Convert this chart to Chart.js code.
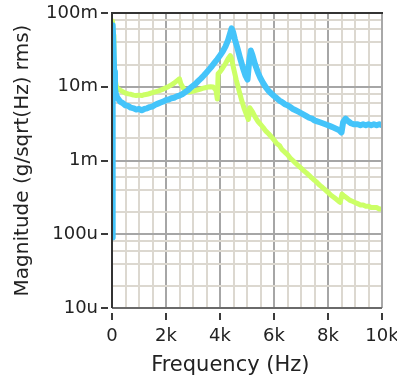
<!DOCTYPE html>
<html>
<head>
<meta charset="utf-8">
<script src="https://cdn.jsdelivr.net/npm/chart.js@4.4.1/dist/chart.umd.min.js"></script>
<style>
  html, body { margin: 0; padding: 0; background: #fff; }
  #wrap { width: 397px; height: 384px; }
</style>
</head>
<body>
<div id="wrap"><canvas id="spectrum"></canvas></div>
<script>
// blue trace
var blueFreq = [0, 15, 35, 55, 80, 110, 150, 200, 300, 400, 500, 600, 700, 800, 900, 1000,
  1100, 1200, 1300, 1400, 1500, 1600, 1700, 1800, 1900, 2000, 2100, 2200, 2300, 2400, 2500,
  2600, 2700, 2800, 2900, 3000, 3100, 3200, 3300, 3400, 3500, 3600, 3700, 3800, 3900, 4000,
  4100, 4200, 4300, 4380, 4430, 4480, 4550, 4650, 4750, 4850, 4950, 5020, 5080, 5140, 5200,
  5300, 5400, 5500, 5600, 5700, 5800, 5900, 6000, 6100, 6200, 6300, 6400, 6500, 6600, 6700,
  6800, 6900, 7000, 7100, 7200, 7300, 7400, 7500, 7600, 7700, 7800, 7900, 8000, 8100, 8200,
  8300, 8400, 8500, 8560, 8650, 8750, 8850, 8950, 9100, 9200, 9300, 9400, 9500, 9600, 9700,
  9800, 9900, 10000];
var blueMag = [0.00009, 0.0085, 0.068, 0.035, 0.016, 0.0095, 0.0078, 0.0071, 0.0063, 0.0060,
  0.0056, 0.0055, 0.0052, 0.0051, 0.0049, 0.0050, 0.0048, 0.0050, 0.0051, 0.0053, 0.0054,
  0.0057, 0.0059, 0.0061, 0.0063, 0.0066, 0.0067, 0.0070, 0.0071, 0.0074, 0.0076, 0.0079,
  0.0084, 0.0089, 0.0096, 0.0103, 0.0110, 0.0120, 0.0130, 0.0142, 0.0156, 0.0172, 0.0190,
  0.0212, 0.0236, 0.0265, 0.0300, 0.0350, 0.0430, 0.0540, 0.0620, 0.0560, 0.0440, 0.0330,
  0.0240, 0.0180, 0.0140, 0.0125, 0.0220, 0.0310, 0.0270, 0.0200, 0.0158, 0.0130, 0.0112,
  0.0098, 0.0088, 0.0081, 0.0075, 0.0070, 0.0065, 0.0062, 0.0058, 0.0056, 0.0053, 0.0050,
  0.0048, 0.0046, 0.0044, 0.0042, 0.0040, 0.0038, 0.0037, 0.0035, 0.0034, 0.0033, 0.0032,
  0.0031, 0.0030, 0.0029, 0.0028, 0.0027, 0.0026, 0.0024, 0.0033, 0.0037, 0.0034, 0.0032,
  0.0031, 0.0031, 0.0030, 0.0031, 0.0030, 0.0031, 0.0030, 0.0031, 0.0030, 0.0031, 0.0030];

// green trace
var greenFreq = [0, 10, 25, 45, 70, 100, 150, 200, 300, 400, 500, 600, 700, 800, 900, 1000,
  1100, 1200, 1300, 1400, 1500, 1600, 1700, 1800, 1900, 2000, 2100, 2200, 2300, 2400, 2500,
  2550, 2650, 2750, 2850, 2950, 3050, 3150, 3250, 3350, 3450, 3550, 3650, 3750, 3850, 3900,
  3930, 4000, 4100, 4200, 4300, 4380, 4430, 4500, 4600, 4700, 4800, 4900, 5000, 5050, 5100,
  5200, 5300, 5400, 5500, 5600, 5700, 5800, 5900, 6000, 6100, 6200, 6300, 6400, 6500, 6600,
  6700, 6800, 6900, 7000, 7100, 7200, 7300, 7400, 7500, 7600, 7700, 7800, 7900, 8000, 8100,
  8200, 8300, 8400, 8450, 8520, 8600, 8700, 8800, 8900, 9000, 9100, 9200, 9300, 9400, 9500,
  9600, 9700, 9800, 9900, 10000];
var greenMag = [0.0090, 0.030, 0.078, 0.050, 0.025, 0.014, 0.0105, 0.0095, 0.0090, 0.0086,
  0.0082, 0.0080, 0.0079, 0.0077, 0.0076, 0.0077, 0.0076, 0.0078, 0.0079, 0.0081, 0.0083,
  0.0085, 0.0087, 0.0090, 0.0093, 0.0097, 0.0101, 0.0106, 0.0112, 0.0120, 0.0128, 0.0110,
  0.0095, 0.0088, 0.0085, 0.0086, 0.0088, 0.0090, 0.0092, 0.0095, 0.0097, 0.0099, 0.0100,
  0.0099, 0.0090, 0.0068, 0.0150, 0.0160, 0.0180, 0.0205, 0.0240, 0.0265, 0.0240, 0.0180,
  0.0125, 0.0090, 0.0066, 0.0050, 0.0040, 0.0036, 0.0052, 0.0046, 0.0039, 0.0034, 0.0031,
  0.0028, 0.0025, 0.0023, 0.0021, 0.0019, 0.0017, 0.0016, 0.0014, 0.0013, 0.0012, 0.00108,
  0.00100, 0.00092, 0.00085, 0.00079, 0.00073, 0.00068, 0.00063, 0.00058, 0.00054, 0.00050,
  0.00046, 0.00043, 0.00040, 0.00037, 0.00034, 0.00032, 0.00030, 0.00028, 0.00027, 0.00035,
  0.00033, 0.00031, 0.00029, 0.00028, 0.00027, 0.00026, 0.00025, 0.00025, 0.00024, 0.00024,
  0.00023, 0.00023, 0.00023, 0.00022, 0.00022];

// axes
var yGridValues = [1e-5, 2e-5, 4e-5, 6e-5, 8e-5, 1e-4, 2e-4, 4e-4, 6e-4, 8e-4,
  1e-3, 2e-3, 4e-3, 6e-3, 8e-3, 1e-2, 2e-2, 4e-2, 6e-2, 8e-2, 1e-1];
var yMajorTicks = [1e-5, 1e-4, 1e-3, 1e-2, 1e-1];
var yTickLabels = ['10u', '100u', '1m', '10m', '100m'];
var xMajorTicks = [0, 2000, 4000, 6000, 8000, 10000];
var xTickLabels = ['0', '2k', '4k', '6k', '8k', '10k'];

function toPoints(xs, ys) {
  return xs.map(function (x, i) { return { x: x, y: ys[i] }; });
}
function yMajorIndex(v) {
  for (var i = 0; i < yMajorTicks.length; i++) {
    if (Math.abs(v / yMajorTicks[i] - 1) < 1e-6) return i;
  }
  return -1;
}

// plot frame + the short tick dashes that sit a few px off the axis
var frame = {
  id: 'frame',
  afterDraw: function (chart) {
    var a = chart.chartArea, ctx = chart.ctx;
    var xs = chart.scales.x, ys = chart.scales.y;
    ctx.save();
    ctx.lineWidth = 2;
    ctx.strokeStyle = '#3a3a3a';
    ctx.beginPath();
    xMajorTicks.forEach(function (v) {
      var px = Math.round(xs.getPixelForValue(v));
      ctx.moveTo(px, a.bottom + 5); ctx.lineTo(px, a.bottom + 12);
    });
    yMajorTicks.forEach(function (v) {
      var py = Math.round(ys.getPixelForValue(v));
      ctx.moveTo(a.left - 4, py); ctx.lineTo(a.left - 11, py);
    });
    ctx.stroke();

    ctx.strokeStyle = '#a8a8a8';
    ctx.beginPath();
    ctx.moveTo(a.right, a.top); ctx.lineTo(a.right, a.bottom);
    ctx.stroke();
    ctx.strokeStyle = '#6a6a6a';
    ctx.beginPath();
    ctx.moveTo(a.left, a.bottom); ctx.lineTo(a.right, a.bottom);
    ctx.stroke();
    ctx.strokeStyle = '#333';
    ctx.beginPath();
    ctx.moveTo(a.left, a.bottom); ctx.lineTo(a.left, a.top); ctx.lineTo(a.right + 1, a.top);
    ctx.stroke();
    ctx.restore();
  }
};

var tickFont = { family: 'DejaVu Sans', size: 18 };

new Chart(document.getElementById('spectrum'), {
  type: 'line',
  data: {
    datasets: [
      {
        data: toPoints(blueFreq, blueMag),
        borderColor: '#44c4fa',
        borderWidth: 6,
        borderJoinStyle: 'round',
        pointRadius: 0,
        tension: 0
      },
      {
        data: toPoints(greenFreq, greenMag),
        borderColor: '#ccff66',
        borderWidth: 5,
        borderJoinStyle: 'round',
        pointRadius: 0,
        tension: 0
      }
    ]
  },
  options: {
    responsive: true,
    maintainAspectRatio: false,
    animation: false,
    layout: { padding: { top: 13, right: 15, left: 0, bottom: 0 } },
    plugins: { legend: { display: false }, tooltip: { enabled: false } },
    scales: {
      x: {
        type: 'linear',
        min: 0,
        max: 10000,
        afterFit: function (s) { s.height = 76; s.paddingLeft = 0; s.paddingRight = 0; },
        ticks: {
          stepSize: 500,
          autoSkip: false,
          maxRotation: 0,
          padding: 18,
          color: '#222',
          font: tickFont,
          callback: function (v) {
            var i = xMajorTicks.indexOf(v);
            return i >= 0 ? xTickLabels[i] : '';
          }
        },
        grid: {
          lineWidth: 2,
          color: function (c) {
            return xMajorTicks.indexOf(c.tick.value) >= 0 ? '#a6a6a6' : '#dcd8d0';
          },
          drawTicks: false
        },
        border: { display: false },
        title: {
          display: true,
          text: 'Frequency (Hz)     ',
          color: '#222',
          font: { family: 'DejaVu Sans', size: 21 },
          padding: { top: 0, bottom: 6 }
        }
      },
      y: {
        type: 'logarithmic',
        min: 1e-5,
        max: 1e-1,
        afterBuildTicks: function (s) {
          s.ticks = yGridValues.map(function (v) { return { value: v }; });
        },
        afterFit: function (s) { s.width = 112; s.paddingTop = 0; s.paddingBottom = 0; },
        ticks: {
          autoSkip: false,
          padding: 14,
          color: '#222',
          font: tickFont,
          callback: function (v) {
            var i = yMajorIndex(v);
            return i >= 0 ? yTickLabels[i] : '';
          }
        },
        grid: {
          lineWidth: 2,
          color: function (c) {
            return yMajorIndex(c.tick.value) >= 0 ? '#a6a6a6' : '#dcd8d0';
          },
          drawTicks: false
        },
        border: { display: false },
        title: {
          display: true,
          text: 'Magnitude (g/sqrt(Hz) rms)',
          color: '#222',
          font: { family: 'DejaVu Sans', size: 20 },
          padding: { top: 11, bottom: 0 }
        }
      }
    }
  },
  plugins: [frame]
});
</script>
</body>
</html>
